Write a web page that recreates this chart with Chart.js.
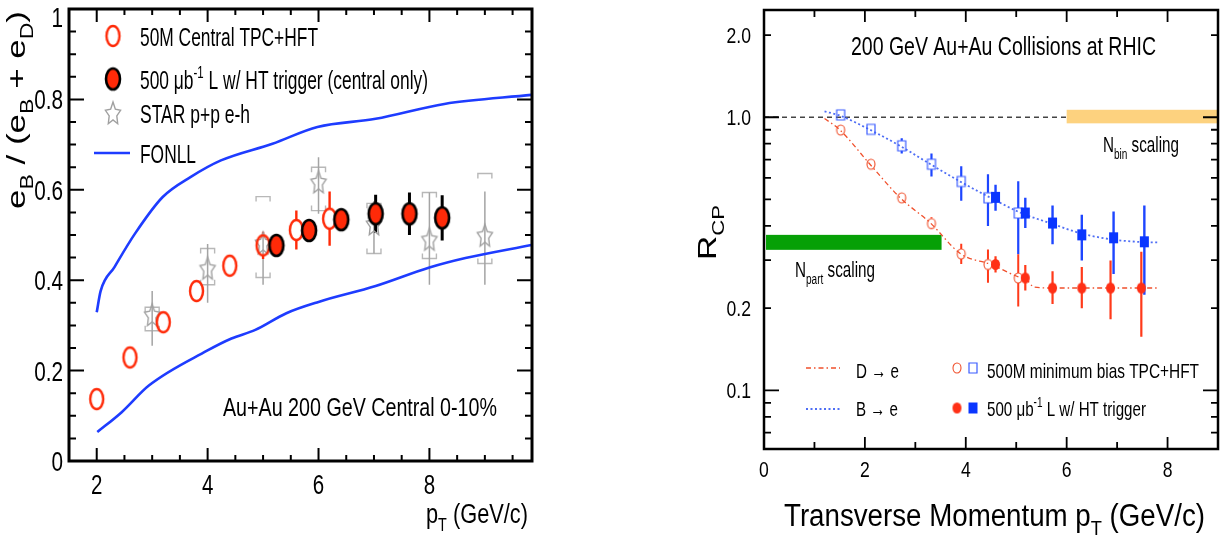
<!DOCTYPE html>
<html>
<head>
<meta charset="utf-8">
<script src="https://cdn.jsdelivr.net/npm/chart.js@4.4.1/dist/chart.umd.min.js"></script>
<style>
  html, body { margin: 0; padding: 0; background: #fff; }
  #wrap { position: relative; width: 1225px; height: 546px; overflow: hidden; }
  canvas { position: absolute; top: 0; }
  #left { left: 0; }
  #right { left: 600px; }
</style>
</head>
<body>
<div id="wrap">
  <canvas id="left" width="560" height="546"></canvas>
  <canvas id="right" width="625" height="546"></canvas>
</div>
<script>
// ---- left panel: e_B / (e_B + e_D), Au+Au central ----
const ptCentral = [2.0, 2.6, 3.2, 3.8, 4.4, 5.0, 5.6, 6.2];
const ratioCentral = [0.137, 0.229, 0.307, 0.376, 0.432, 0.477, 0.511, 0.536];
const errCentral = [0, 0, 0, 0, 0, 0.03, 0.043, 0.06];

const ptHT = [5.24, 5.83, 6.41, 7.03, 7.64, 8.23];
const ratioHT = [0.477, 0.51, 0.534, 0.547, 0.547, 0.538];
const errHT = [0, 0, 0, 0.042, 0.047, 0.05];

const ptPP = [3, 4, 5, 6, 7, 8, 9];
const ratioPP = [0.321, 0.424, 0.48, 0.615, 0.522, 0.488, 0.497];
const statLoPP = [0.255, 0.35, 0.39, 0.547, 0.459, 0.39, 0.39];
const statHiPP = [0.376, 0.48, 0.5, 0.672, 0.575, 0.594, 0.596];
const sysLoPP = [0.288, 0.39, 0.406, 0.554, 0.459, 0.448, 0.437];
const sysHiPP = [0.34, 0.47, 0.585, 0.65, 0.57, 0.594, 0.636];

const fonllUpperPt = [2.0, 2.07, 2.32, 2.69, 3.19, 3.69, 4.24, 5.17, 5.98, 7.03, 8.27, 9.84];
const fonllUpper = [0.329, 0.376, 0.429, 0.503, 0.584, 0.628, 0.665, 0.702, 0.739, 0.757, 0.79, 0.81];
const fonllLowerPt = [2.01, 2.45, 2.94, 3.99, 4.43, 4.86, 5.42, 6.0, 7.03, 8.0, 8.65, 9.84];
const fonllLower = [0.064, 0.108, 0.167, 0.244, 0.271, 0.29, 0.327, 0.352, 0.387, 0.428, 0.449, 0.478];

const leftXTicks = [2, 4, 6, 8];
const leftYTicks = [0, 0.2, 0.4, 0.6, 0.8, 1];
const leftYLabels = ['0', '0.2', '0.4', '0.6', '0.8', '1'];

// ---- right panel: R_CP ----
const ptMB = [1.52, 2.12, 2.73, 3.32, 3.91, 4.44, 5.04];
const rcpMBb = [1.02, 0.903, 0.786, 0.673, 0.582, 0.507, 0.446];
const mbBLo = [1.0, 0.89, 0.736, 0.607, 0.495, 0.40, 0.315];
const mbBHi = [1.04, 0.915, 0.837, 0.736, 0.661, 0.618, 0.583];
const rcpMBd = [0.898, 0.673, 0.507, 0.408, 0.316, 0.289, 0.258];
const mbDLo = [0.88, 0.66, 0.49, 0.39, 0.29, 0.248, 0.203];
const mbDHi = [0.915, 0.69, 0.525, 0.43, 0.344, 0.328, 0.315];

const ptHTb = [4.59, 5.18, 5.72, 6.3, 6.93, 7.54];
const rcpHTb = [0.509, 0.446, 0.41, 0.371, 0.362, 0.35];
const htBLo = [0.455, 0.393, 0.343, 0.299, 0.267, 0.224];
const htBHi = [0.566, 0.507, 0.475, 0.44, 0.452, 0.475];
const ptHTd = [4.59, 5.18, 5.72, 6.3, 6.87, 7.48];
const rcpHTd = [0.289, 0.258, 0.237, 0.237, 0.237, 0.237];
const htDLo = [0.27, 0.232, 0.207, 0.2, 0.182, 0.157];
const htDHi = [0.31, 0.288, 0.273, 0.283, 0.299, 0.322];

const curveBPt = [1.2, 1.5, 2.1, 2.7, 3.3, 3.9, 4.5, 5.1, 5.7, 6.3, 6.9, 7.5, 7.8];
const curveB = [1.05, 1.015, 0.9, 0.785, 0.673, 0.58, 0.506, 0.446, 0.408, 0.375, 0.357, 0.349, 0.348];
const curveDPt = [1.2, 1.5, 2.1, 2.7, 3.3, 3.9, 4.5, 5.05, 5.2, 5.35, 5.7, 7.8];
const curveD = [0.99, 0.9, 0.673, 0.507, 0.41, 0.316, 0.289, 0.26, 0.255, 0.239, 0.237, 0.237];

const unityPt = [0, 6.0];
const unityVal = [1, 1];
const nbinBandX = [6.0, 9.0];
const nbinBandY = [0.95, 1.065];
const npartBandX = [0.04, 3.52];
const npartBandY = [0.327, 0.371];

const rightXTicks = [0, 2, 4, 6, 8];
const rightYTicks = [0.1, 0.2, 1.0, 2.0];
const rightYLabels = ['0.1', '0.2', '1.0', '2.0'];

const FONT = '"Liberation Sans", Arial, Helvetica, sans-serif';
const RED = '#ff2a08';
const BLUE = '#1e3cff';
const SQ = 0.8;

const pts = (xs, ys) => xs.map((x, i) => ({ x, y: ys[i] }));

// text with sub/superscripts, squeezed horizontally like the source picture
function richText(ctx, segs, x, y, o = {}) {
  const size = o.size || 20;
  const parts = segs.map(s => {
    const [t, k] = Array.isArray(s) ? s : [s, ''];
    return {
      t,
      fs: k ? size * 0.66 : size,
      dy: k === 'sub' ? size * 0.3 : k === 'sup' ? -size * 0.42 : 0
    };
  });
  ctx.save();
  let w = 0;
  parts.forEach(p => {
    ctx.font = `${p.fs}px ${FONT}`;
    p.w = ctx.measureText(p.t).width;
    w += p.w;
  });
  const sx = o.width ? o.width / w : (o.sq || SQ);
  ctx.translate(x, y);
  if (o.rot) ctx.rotate(o.rot);
  ctx.scale(sx, o.sy || 1);
  let cx = o.align === 'center' ? -w / 2 : o.align === 'right' ? -w : 0;
  ctx.fillStyle = o.color || '#000';
  ctx.textAlign = 'left';
  ctx.textBaseline = 'alphabetic';
  parts.forEach(p => {
    ctx.font = `${p.fs}px ${FONT}`;
    ctx.fillText(p.t, cx, p.dy);
    cx += p.w;
  });
  ctx.restore();
}

function marker(shape, w, h, fill, stroke, lw) {
  const pad = Math.ceil(lw) + 1;
  const c = document.createElement('canvas');
  c.width = w + pad * 2;
  c.height = h + pad * 2;
  const g = c.getContext('2d');
  g.translate(c.width / 2, c.height / 2);
  g.beginPath();
  if (shape === 'circle') {
    g.ellipse(0, 0, w / 2, h / 2, 0, 0, Math.PI * 2);
  } else if (shape === 'square') {
    g.rect(-w / 2, -h / 2, w, h);
  } else {
    for (let i = 0; i < 10; i++) {
      const r = i % 2 ? 0.5 : 1;
      const a = -Math.PI / 2 + i * Math.PI / 5;
      g.lineTo(Math.cos(a) * r * w / 2, Math.sin(a) * r * h / 2);
    }
    g.closePath();
  }
  if (fill) { g.fillStyle = fill; g.fill(); }
  if (stroke) { g.lineWidth = lw; g.strokeStyle = stroke; g.stroke(); }
  return c;
}

const mkOpenRed = marker('circle', 13, 20, null, RED, 2.4);
const mkFullRed = marker('circle', 14, 21, RED, '#000', 2.6);
const mkStar = marker('star', 16, 24, null, '#a0a0a0', 1.4);
const mkOpenCirc = marker('circle', 8, 10, null, '#f0502c', 1.1);
const mkOpenSq = marker('square', 8, 10, null, '#3a5cff', 1.2);
const mkFullCirc = marker('circle', 9, 11, '#ff3016', null, 0);
const mkFullSq = marker('square', 9, 11, '#0a36ff', null, 0);

function stamp(ctx, img, x, y) {
  ctx.drawImage(img, x - img.width / 2, y - img.height / 2);
}

const errorPlugin = {
  id: 'errbars',
  beforeDatasetsDraw(chart) {
    const { ctx, scales: { y } } = chart;
    chart.data.datasets.forEach((ds, i) => {
      if (!ds.errLo && !ds.sysLo) return;
      const meta = chart.getDatasetMeta(i);
      ctx.save();
      meta.data.forEach((pt, j) => {
        const px = pt.x, py = pt.y;
        if (ds.sysLo) {
          const t = y.getPixelForValue(ds.sysHi[j]);
          const b = y.getPixelForValue(ds.sysLo[j]);
          ctx.lineWidth = 1.4;
          ctx.strokeStyle = '#b8b8b8';
          ctx.beginPath();
          ctx.moveTo(px - 7, t + 5); ctx.lineTo(px - 7, t); ctx.lineTo(px + 7, t); ctx.lineTo(px + 7, t + 5);
          ctx.moveTo(px - 7, b - 5); ctx.lineTo(px - 7, b); ctx.lineTo(px + 7, b); ctx.lineTo(px + 7, b - 5);
          ctx.stroke();
        }
        if (ds.errLo) {
          const t = y.getPixelForValue(ds.errHi[j]);
          const b = y.getPixelForValue(ds.errLo[j]);
          const gap = ds.errGap || 0;
          ctx.lineWidth = ds.errWidth;
          ctx.strokeStyle = ds.errColor;
          ctx.beginPath();
          if (t < py - gap) { ctx.moveTo(px, t); ctx.lineTo(px, py - gap); }
          if (b > py + gap) { ctx.moveTo(px, py + gap); ctx.lineTo(px, b); }
          ctx.stroke();
        }
      });
      ctx.restore();
    });
  }
};

function framePlugin(cfg) {
  return {
    id: 'frame',
    afterDatasetsDraw(chart) {
      const { ctx, chartArea: a, scales: { x, y } } = chart;
      ctx.save();
      ctx.strokeStyle = '#000';
      ctx.lineWidth = cfg.tickWidth;
      ctx.beginPath();
      cfg.xTicks.forEach(([v, len]) => {
        const px = x.getPixelForValue(v);
        if (px < a.left + 1 || px > a.right - 1) return;
        ctx.moveTo(px, a.bottom); ctx.lineTo(px, a.bottom - len);
        ctx.moveTo(px, a.top); ctx.lineTo(px, a.top + len);
      });
      cfg.yTicks.forEach(([v, len]) => {
        const py = y.getPixelForValue(v);
        if (py < a.top + 1 || py > a.bottom - 1) return;
        ctx.moveTo(a.left, py); ctx.lineTo(a.left + len, py);
        ctx.moveTo(a.right, py); ctx.lineTo(a.right - len, py);
      });
      ctx.stroke();
      ctx.lineWidth = cfg.lineWidth;
      ctx.strokeRect(a.left, a.top, a.right - a.left, a.bottom - a.top);
      ctx.restore();

      const xl = cfg.xLabels, yl = cfg.yLabels;
      xl.vals.forEach(v => {
        richText(ctx, [String(v)], x.getPixelForValue(v), xl.baseline,
          { size: xl.size, sq: xl.sq, align: 'center' });
      });
      yl.vals.forEach((v, i) => {
        const py = Math.max(y.getPixelForValue(v), a.top + 8);
        richText(ctx, [yl.texts[i]], yl.right, py + yl.size * 0.36,
          { size: yl.size, sq: yl.sq, align: 'right' });
      });
    }
  };
}

// tick marks (axis decoration only)
const leftXMarks = [];
for (let v = 1.5; v <= 9.51; v += 0.5) leftXMarks.push([v, Math.abs(v % 2) < 0.01 ? 13 : 6]);
const leftYMarks = [];
for (let k = 0; k <= 20; k++) leftYMarks.push([k * 0.05, k % 4 === 0 ? 15 : 7]);
const rightXMarks = [];
for (let v = 0; v <= 9; v++) rightXMarks.push([v, v % 2 === 0 ? 12 : 7]);
const rightYMarks = [[0.07, 7], [0.08, 7], [0.09, 7], [0.1, 15], [1.0, 15], [2.0, 7]];
for (let k = 2; k <= 9; k++) rightYMarks.push([k / 10, 7]);

const axisBase = {
  type: 'linear',
  ticks: { display: false },
  grid: { display: false },
  border: { display: false }
};

const leftDecor = {
  id: 'leftDecor',
  afterDraw(chart) {
    const ctx = chart.ctx;
    stamp(ctx, mkOpenRed, 113, 36);
    stamp(ctx, mkFullRed, 113, 79);
    stamp(ctx, mkStar, 113, 114);
    ctx.save();
    ctx.strokeStyle = BLUE;
    ctx.lineWidth = 2.6;
    ctx.beginPath(); ctx.moveTo(94, 153); ctx.lineTo(130, 153); ctx.stroke();
    ctx.restore();
    richText(ctx, ['50M Central TPC+HFT'], 140, 46, { size: 26, width: 178 });
    richText(ctx, ['500 μb', ['-1', 'sup'], ' L w/ HT trigger (central only)'], 140, 89, { size: 26, width: 288 });
    richText(ctx, ['STAR p+p e-h'], 140, 123, { size: 26, width: 110 });
    richText(ctx, ['FONLL'], 140, 163, { size: 26, width: 56 });
    richText(ctx, ['Au+Au 200 GeV Central 0-10%'], 223, 416, { size: 26, width: 274 });
    richText(ctx, ['p', ['T', 'sub'], ' (GeV/c)'], 426, 523, { size: 27, width: 102 });
    richText(ctx, ['e', ['B', 'sub'], ' / (e', ['B', 'sub'], ' + e', ['D', 'sub'], ')'], 25, 110,
      { size: 34, width: 198, align: 'center', rot: -Math.PI / 2, sy: 0.78 });
  }
};

new Chart(document.getElementById('left'), {
  type: 'line',
  data: {
    datasets: [
      { data: pts(fonllUpperPt, fonllUpper), borderColor: BLUE, borderWidth: 2.6, pointRadius: 0,
        cubicInterpolationMode: 'monotone', order: 5 },
      { data: pts(fonllLowerPt, fonllLower), borderColor: BLUE, borderWidth: 2.6, pointRadius: 0,
        cubicInterpolationMode: 'monotone', order: 5 },
      { data: pts(ptPP, ratioPP), showLine: false, pointStyle: mkStar, pointRadius: 6,
        errLo: statLoPP, errHi: statHiPP, sysLo: sysLoPP, sysHi: sysHiPP,
        errColor: '#a4a4a4', errWidth: 1.5, order: 4 },
      { data: pts(ptCentral, ratioCentral), showLine: false, pointStyle: mkOpenRed, pointRadius: 6,
        errLo: ratioCentral.map((v, i) => v - errCentral[i]), errHi: ratioCentral.map((v, i) => v + errCentral[i]),
        errColor: RED, errWidth: 2.4, errGap: 10, order: 2 },
      { data: pts(ptHT, ratioHT), showLine: false, pointStyle: mkFullRed, pointRadius: 6,
        errLo: ratioHT.map((v, i) => v - errHT[i]), errHi: ratioHT.map((v, i) => v + errHT[i]),
        errColor: '#000', errWidth: 3, errGap: 8, order: 1 }
    ]
  },
  options: {
    responsive: false,
    animation: false,
    events: [],
    layout: { padding: { left: 0, right: 28, top: 9, bottom: 0 }, autoPadding: false },
    plugins: { legend: { display: false }, tooltip: { enabled: false } },
    scales: {
      x: { ...axisBase, min: 1.5, max: 9.85, afterFit: s => { s.height = 85; } },
      y: { ...axisBase, min: 0, max: 1, afterFit: s => { s.width = 69; } }
    }
  },
  plugins: [errorPlugin, framePlugin({
    lineWidth: 3, tickWidth: 2, xTicks: leftXMarks, yTicks: leftYMarks,
    xLabels: { vals: leftXTicks, baseline: 494, size: 27, sq: 0.76 },
    yLabels: { vals: leftYTicks, texts: leftYLabels, right: 63, size: 28, sq: 0.74 }
  }), leftDecor]
});

const rightDecor = {
  id: 'rightDecor',
  beforeDatasetsDraw(chart) {
    const { ctx, scales: { x, y } } = chart;
    ctx.save();
    ctx.fillStyle = '#fdd27f';
    ctx.fillRect(x.getPixelForValue(nbinBandX[0]), y.getPixelForValue(nbinBandY[1]),
      x.getPixelForValue(nbinBandX[1]) - x.getPixelForValue(nbinBandX[0]),
      y.getPixelForValue(nbinBandY[0]) - y.getPixelForValue(nbinBandY[1]));
    ctx.fillStyle = '#06a006';
    ctx.fillRect(x.getPixelForValue(npartBandX[0]), y.getPixelForValue(npartBandY[1]),
      x.getPixelForValue(npartBandX[1]) - x.getPixelForValue(npartBandX[0]),
      y.getPixelForValue(npartBandY[0]) - y.getPixelForValue(npartBandY[1]));
    ctx.restore();
  },
  afterDraw(chart) {
    const ctx = chart.ctx;
    richText(ctx, ['200 GeV Au+Au Collisions at RHIC'], 251, 55, { size: 26, width: 305 });
    richText(ctx, ['N', ['bin', 'sub'], ' scaling'], 503, 152, { size: 22, width: 76 });
    richText(ctx, ['N', ['part', 'sub'], ' scaling'], 195, 277, { size: 22, width: 80 });

    ctx.save();
    ctx.lineWidth = 1.3;
    ctx.strokeStyle = '#f0502c';
    ctx.setLineDash([5, 3, 1.5, 3]);
    ctx.beginPath(); ctx.moveTo(206, 368); ctx.lineTo(240, 368); ctx.stroke();
    ctx.strokeStyle = '#4f6ef5';
    ctx.lineWidth = 1.8;
    ctx.setLineDash([2, 2.5]);
    ctx.beginPath(); ctx.moveTo(206, 409); ctx.lineTo(242, 409); ctx.stroke();
    ctx.restore();
    richText(ctx, ['D → e'], 256, 378, { size: 21, width: 43 });
    richText(ctx, ['B → e'], 256, 416, { size: 21, width: 42 });
    stamp(ctx, mkOpenCirc, 357, 368);
    stamp(ctx, mkOpenSq, 373, 368);
    stamp(ctx, mkFullCirc, 357, 408);
    stamp(ctx, mkFullSq, 373, 408);
    richText(ctx, ['500M minimum bias TPC+HFT'], 387, 378, { size: 21, width: 212 });
    richText(ctx, ['500 μb', ['-1', 'sup'], ' L w/ HT trigger'], 387, 416, { size: 21, width: 159 });

    richText(ctx, ['Transverse Momentum p', ['T', 'sub'], ' (GeV/c)'], 184, 526, { size: 31, width: 421 });
    richText(ctx, ['R', ['CP', 'sub']], 116, 260, { size: 35, width: 55, rot: -Math.PI / 2, sy: 0.74 });
  }
};

new Chart(document.getElementById('right'), {
  type: 'line',
  data: {
    datasets: [
      { data: pts(unityPt, unityVal), borderColor: '#444', borderWidth: 1.3, borderDash: [5, 4],
        pointRadius: 0, order: 9 },
      { data: pts(curveBPt, curveB), borderColor: '#4f6ef5', borderWidth: 1.8, borderDash: [2, 2.5],
        pointRadius: 0, cubicInterpolationMode: 'monotone', order: 8 },
      { data: pts(curveDPt, curveD), borderColor: '#f0502c', borderWidth: 1.3, borderDash: [5, 3, 1.5, 3],
        pointRadius: 0, cubicInterpolationMode: 'monotone', order: 8 },
      { data: pts(ptMB, rcpMBb), showLine: false, pointStyle: mkOpenSq, pointRadius: 5,
        errLo: mbBLo, errHi: mbBHi, errColor: '#1e46ff', errWidth: 2.2, errGap: 5, order: 4 },
      { data: pts(ptMB, rcpMBd), showLine: false, pointStyle: mkOpenCirc, pointRadius: 5,
        errLo: mbDLo, errHi: mbDHi, errColor: '#ff3a1a', errWidth: 2, errGap: 5, order: 4 },
      { data: pts(ptHTb, rcpHTb), showLine: false, pointStyle: mkFullSq, pointRadius: 5,
        errLo: htBLo, errHi: htBHi, errColor: '#1e46ff', errWidth: 2.4, order: 2 },
      { data: pts(ptHTd, rcpHTd), showLine: false, pointStyle: mkFullCirc, pointRadius: 5,
        errLo: htDLo, errHi: htDHi, errColor: '#ff3a1a', errWidth: 2.2, order: 2 }
    ]
  },
  options: {
    responsive: false,
    animation: false,
    events: [],
    layout: { padding: { left: 0, right: 7, top: 10, bottom: 0 }, autoPadding: false },
    plugins: { legend: { display: false }, tooltip: { enabled: false } },
    scales: {
      x: { ...axisBase, min: 0, max: 9, afterFit: s => { s.height = 97; } },
      y: { ...axisBase, type: 'logarithmic', min: 0.061, max: 2.47, afterFit: s => { s.width = 164; } }
    }
  },
  plugins: [rightDecor, errorPlugin, framePlugin({
    lineWidth: 2.5, tickWidth: 1.8, xTicks: rightXMarks, yTicks: rightYMarks,
    xLabels: { vals: rightXTicks, baseline: 477, size: 22, sq: 0.8 },
    yLabels: { vals: rightYTicks, texts: rightYLabels, right: 151, size: 22, sq: 0.8 }
  })]
});
</script>
</body>
</html>
